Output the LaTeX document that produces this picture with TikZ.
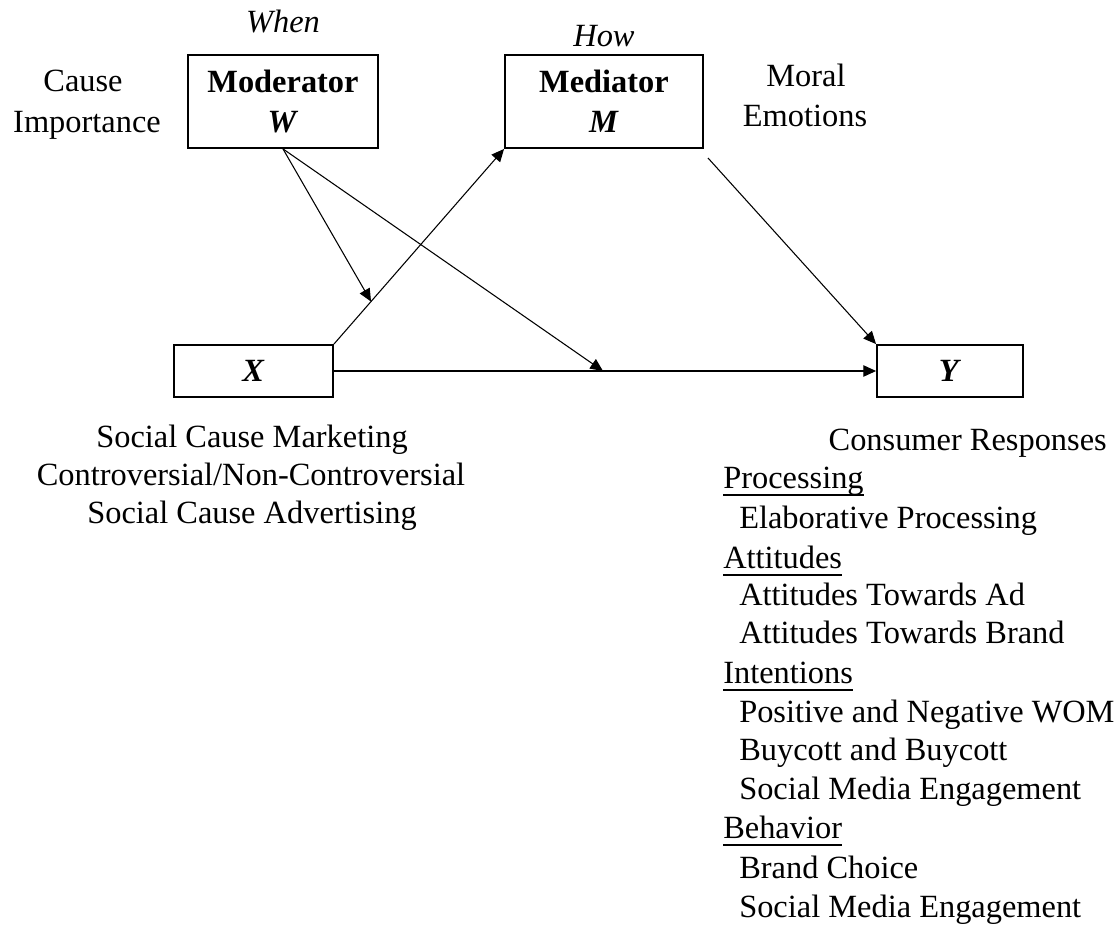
\documentclass[tikz,border=0pt]{standalone}
\usepackage{fontspec}
\setmainfont{Liberation Serif}
\usetikzlibrary{arrows.meta,calc}
% underlined group heading: rule a little below the baseline
\newcommand\hdrline[1]{\setbox0\hbox{#1}\rlap{\rule[-6pt]{\wd0}{1.2pt}}\box0}
\begin{document}
\begin{tikzpicture}[x=0.75pt,y=-0.75pt,
  every node/.style={font=\fontsize{24.3}{30}\selectfont, inner sep=0pt},
  varbox/.style={draw, line width=1.4pt, align=center},
  lbl/.style={anchor=base},
  item/.style={anchor=base west},
  link/.style={line width=0.8pt, -{Triangle[length=9.5pt,width=8.5pt]}}]
\useasboundingbox (0,0) rectangle (1119,927);

% variable boxes
\node[varbox, minimum width=142.5pt, minimum height=69.75pt] (W) at (283,101.5)
  {\textbf{Moderator}\\\textbf{\textit{W}}};
\node[varbox, minimum width=148.5pt, minimum height=69.75pt] (M) at (604,101.5)
  {\textbf{Mediator}\\\textbf{\textit{M}}};
\node[varbox, minimum width=119.25pt, minimum height=39pt] (X) at (253.5,371)
  {\textbf{\textit{X}}};
\node[varbox, minimum width=109.5pt, minimum height=39pt] (Y) at (950,371)
  {\textbf{\textit{Y}}};

% headings above the boxes
\node[lbl] (when) at (283,33) {\textit{When}};
\node[lbl] (how) at (604,47) {\textit{How}};

% side labels
\node[lbl] (cause1) at (83,92) {Cause};
\node[lbl] (cause2) at (87,133) {Importance};
\node[lbl] (moral1) at (806,87) {Moral};
\node[lbl] (moral2) at (805,127) {Emotions};

% description of X
\node[lbl] (xd1) at (252,447) {Social Cause Marketing};
\node[lbl] (xd2) at (251,485) {Controversial/Non-Controversial};
\node[lbl] (xd3) at (252,523) {Social Cause Advertising};

% description of Y
\node[anchor=base east] (yd0) at (1107,450) {Consumer Responses};
\node[item] (yh1) at (723,488) {\hdrline{Processing}};
\node[item] (yi1) at (739,528) {Elaborative Processing};
\node[item] (yh2) at (723,568) {\hdrline{Attitudes}};
\node[item] (yi2) at (739,605) {Attitudes Towards Ad};
\node[item] (yi3) at (739,643) {Attitudes Towards Brand};
\node[item] (yh3) at (723,683) {\hdrline{Intentions}};
\node[item] (yi4) at (739,722) {Positive and Negative WOM};
\node[item] (yi5) at (739,760) {Buycott and Buycott};
\node[item] (yi6) at (739,799) {Social Media Engagement};
\node[item] (yh4) at (723,838) {\hdrline{Behavior}};
\node[item] (yi7) at (739,878) {Brand Choice};
\node[item] (yi8) at (739,917) {Social Media Engagement};

% connectors
\coordinate (ax) at ($(X.north east)!0.218!(M.south west)$);
\coordinate (ay) at (603,371);
\coordinate (mout) at (708,158);
\draw[link] (X.north east) -- (M.south west);
\draw[link] (X.east) -- (Y.west);
\draw[link] (mout) -- (Y.north west);
\draw[link] (W.south) -- (ax);
\draw[link] (W.south) -- (ay);
\end{tikzpicture}
\end{document}
